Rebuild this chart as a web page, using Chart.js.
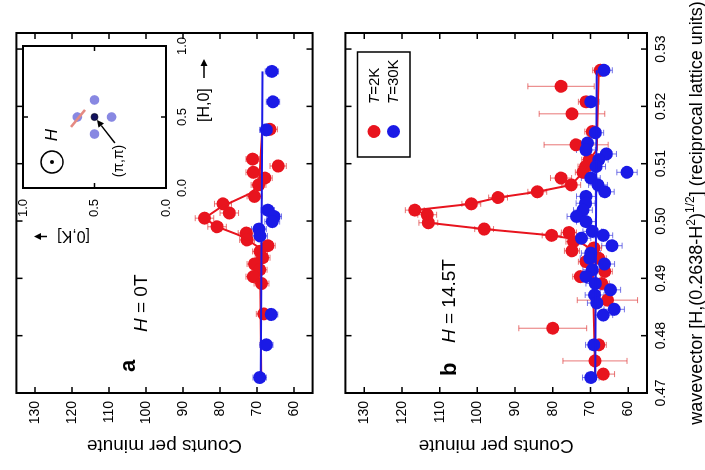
<!DOCTYPE html>
<html><head><meta charset="utf-8">
<script src="https://cdn.jsdelivr.net/npm/chart.js@4.4.1/dist/chart.umd.min.js"></script>
<style>
html,body{margin:0;padding:0;background:#fff;overflow:hidden;width:705px;height:470px}
#fig{position:absolute;left:0;top:0;width:470px;height:705px;transform-origin:0 0;transform:translate(0px,470px) rotate(-90deg);background:#fff}
canvas{position:absolute}
</style></head><body>
<div id="fig">
<canvas id="ca" width="470" height="329" style="left:0;top:0;width:470px;height:329px"></canvas>
<canvas id="cb" width="470" height="376" style="left:0;top:329px;width:470px;height:376px"></canvas>
<canvas id="ci" width="218" height="212" style="left:222px;top:13px;width:218px;height:212px"></canvas>
</div>
<script>
// ---- tick labels ----
const waveTicks = [0.47,0.48,0.49,0.50,0.51,0.52,0.53];
const countTicks = [60,70,80,90,100,110,120,130];
const insetTicks = [0,0.5,1];

// ---- panel a (H = 0T) ----
const aRedQ = [0.5160,0.5108,0.5096,0.5085,0.5075,0.5063,0.5043,0.5030,0.5014,0.5005,0.4990,0.4979,0.4967,0.4957,0.4947,0.4936,0.4925,0.4915,0.4903,0.4891,0.4838];
const aRedC = [66.5,71.2,64.3,71.0,67.9,69.6,70.7,79.2,77.5,84.2,80.8,72.9,72.7,67.1,69.2,68.5,70.7,69.3,71.0,68.8,68.2];
const aRedE = [2.0,1.8,2.2,2.0,2.0,2.0,2.0,2.3,2.5,2.5,2.5,2.2,2.0,2.0,2.0,2.0,2.0,2.0,2.0,2.0,2.0];
const aBlueQ = [0.5261,0.5208,0.5159,0.5019,0.5008,0.4999,0.4986,0.4974,0.4837,0.4784,0.4727];
const aBlueC = [66.0,65.7,67.5,67.1,65.4,65.9,69.5,69.2,66.2,67.5,69.3];
const aBlueE = [1.8,1.8,1.8,1.8,2.0,2.0,2.0,2.0,1.8,1.8,1.8];
const aRedFitQ = [0.5160,0.5063,0.50485,0.5025,0.50049,0.49902,0.49757,0.4967,0.49525,0.4727];
const aRedFitC = [68.6,69.5,71.7,79.6,84.2,80.8,75.0,72.5,69.2,68.9];
const aBlueFitQ = [0.4727,0.5261];
const aBlueFitC = [69.0,68.5];

// ---- panel b (H = 14.5T) ----
const bRedQ = [0.5263,0.5235,0.5208,0.5187,0.5156,0.5133,0.5107,0.5095,0.5085,0.5075,0.5063,0.5051,0.5041,0.5030,0.5019,0.5011,0.4997,0.4986,0.4980,0.4975,0.4964,0.4953,0.4948,0.4935,0.4929,0.4912,0.4903,0.4891,0.4862,0.4813,0.4784,0.4756,0.4733];
const bRedC = [67.4,77.8,71.2,74.9,69.5,73.8,70.3,71.3,72.0,77.8,75.1,84.1,94.5,101.6,116.6,113.3,113.0,98.2,75.7,80.3,74.5,69.1,74.9,67.8,71.2,66.2,72.7,67.0,65.5,80.0,67.8,68.8,66.6];
const bRedE = [2,8.8,2,8.7,2,8.5,2,2,2,2.8,2.5,2.5,2.5,2.5,2.5,2.5,2.5,2.5,2,2.5,2,2,2,2,2,2,2,2,8,9,2,8.5,3];
const bBlueQ = [0.5263,0.5208,0.5154,0.5136,0.5124,0.5117,0.5107,0.5095,0.5085,0.5075,0.5063,0.5051,0.5043,0.5031,0.5019,0.5008,0.4999,0.4982,0.4975,0.4970,0.4957,0.4944,0.4935,0.4925,0.4915,0.4903,0.4891,0.4880,0.4871,0.4857,0.4846,0.4836,0.4784,0.4727];
const bBlueC = [66.4,69.9,68.7,70.8,71.2,65.8,67.8,68.5,60.3,69.9,68.0,66.2,71.2,71.3,72.0,73.7,71.2,69.5,66.6,72.4,64.3,69.9,70.2,66.3,69.5,71.2,68.7,64.7,68.9,68.3,63.7,66.6,69.1,69.9];
const bBlueE = [2.2,2.2,2.2,2.5,2.5,2.7,2.5,2.5,2.7,2.5, 2.5,2.5,2.5,2.5,2.5,2.5,2.5,2.5,2.5,2.5, 2.7,2.5,2.5,2.7,2.5,2.5,2.5,2.7,2.5,2.5, 2.7,2.5,2.2,2.2];
const bRedFitQ = [0.5263,0.5124,0.5107,0.5085,0.5063,0.5051,0.5041,0.5030,0.5019,0.5011,0.4997,0.4986,0.4975,0.4968,0.4950,0.4726];
const bRedFitC = [67.8,68.3,70.3,72.0,75.1,84.1,94.5,101.6,116.6,113.3,113.0,98.2,80.3,74.0,69.5,68.7];
const bBlueFitQ = [0.4726,0.5263];
const bBlueFitC = [68.7,68.3];

// ---- inset (reciprocal space sketch) ----
const insetBraggH = [0.5], insetBraggK = [0.5];
const insetSatH = [0.62,0.5,0.38,0.5], insetSatK = [0.5,0.38,0.5,0.62];
const insetScanH = [0.43,0.55], insetScanK = [0.664,0.566];
const insetArrowH = [0.317,0.479], insetArrowK = [0.357,0.483];

// ---- styling ----
const FONT = "'Liberation Sans', Arial, Helvetica, sans-serif";
const RED = '#e8141e', BLUE = '#1a1ae6';
const RED_ERR = 'rgba(222,60,60,0.7)', BLUE_ERR = 'rgba(60,60,222,0.7)';
Chart.defaults.font.family = FONT;
Chart.defaults.color = '#000';

const pts = (q, c) => q.map((v, i) => ({x: v, y: c[i]}));

function drawRich(ctx, segs, x, y, align) {
  let total = 0;
  segs.forEach(s => { ctx.font = s.font; s.w = ctx.measureText(s.t).width; total += s.w; });
  let cx = align === 'center' ? x - total / 2 : x;
  ctx.textAlign = 'left';
  segs.forEach(s => { ctx.font = s.font; ctx.fillText(s.t, cx, y + (s.dy || 0)); cx += s.w; });
}

function arrow(ctx, x1, y1, x2, y2, head, hw) {
  const ang = Math.atan2(y2 - y1, x2 - x1);
  const bx = x2 - head * Math.cos(ang), by = y2 - head * Math.sin(ang);
  ctx.beginPath(); ctx.moveTo(x1, y1); ctx.lineTo(bx, by); ctx.stroke();
  ctx.beginPath(); ctx.moveTo(x2, y2);
  ctx.lineTo(bx + hw * Math.sin(ang), by - hw * Math.cos(ang));
  ctx.lineTo(bx - hw * Math.sin(ang), by + hw * Math.cos(ang));
  ctx.closePath(); ctx.fill();
}

const errPlugin = {
  id: 'errbars',
  beforeDatasetsDraw(chart) {
    const {ctx, scales: {x, y}} = chart;
    ctx.save();
    chart.data.datasets.forEach(ds => {
      if (!ds.errs) return;
      ctx.strokeStyle = ds.errColor; ctx.lineWidth = 1;
      ctx.beginPath();
      ds.data.forEach((p, i) => {
        const px = x.getPixelForValue(p.x);
        const y1 = y.getPixelForValue(p.y - ds.errs[i]), y2 = y.getPixelForValue(p.y + ds.errs[i]);
        ctx.moveTo(px, y1); ctx.lineTo(px, y2);
        ctx.moveTo(px - 3, y1); ctx.lineTo(px + 3, y1);
        ctx.moveTo(px - 3, y2); ctx.lineTo(px + 3, y2);
      });
      ctx.stroke();
    });
    ctx.restore();
  }
};

function framePlugin(panel) {
  return {
    id: 'frame' + panel,
    afterDraw(chart) {
      const {ctx, chartArea: a, scales: {x, y}} = chart;
      ctx.save();
      ctx.strokeStyle = '#000'; ctx.fillStyle = '#000';
      ctx.lineWidth = 2;
      ctx.strokeRect(a.left, a.top, a.right - a.left, a.bottom - a.top);
      ctx.lineWidth = 1.5;
      const L = 6;
      ctx.beginPath();
      waveTicks.forEach(v => {
        const px = x.getPixelForValue(v);
        if (px < a.left + 1 || px > a.right - 1) return;
        ctx.moveTo(px, a.bottom); ctx.lineTo(px, a.bottom - L);
        ctx.moveTo(px, a.top); ctx.lineTo(px, a.top + L);
      });
      countTicks.forEach(v => {
        const py = y.getPixelForValue(v);
        ctx.moveTo(a.left, py); ctx.lineTo(a.left + L, py);
        ctx.moveTo(a.right, py); ctx.lineTo(a.right - L, py);
      });
      ctx.stroke();

      // y axis title
      ctx.save();
      ctx.translate(29.5, (a.top + a.bottom) / 2);
      ctx.rotate(-Math.PI / 2);
      ctx.font = '19px ' + FONT; ctx.textAlign = 'center'; ctx.textBaseline = 'alphabetic';
      ctx.fillText('Counts per minute', 0, 0);
      ctx.restore();

      ctx.textBaseline = 'alphabetic';
      if (panel === 'a') {
        drawRich(ctx, [{t: 'a', font: 'bold 22px ' + FONT}], 98, 135, 'left');
        drawRich(ctx, [{t: 'H', font: 'italic 19px ' + FONT}, {t: ' = 0T', font: '19px ' + FONT}], 138, 147, 'left');
      } else {
        drawRich(ctx, [{t: 'b', font: 'bold 22px ' + FONT}], 94, 127, 'left');
        drawRich(ctx, [{t: 'H', font: 'italic 19px ' + FONT}, {t: ' = 14.5T', font: '19px ' + FONT}], 127, 126, 'left');
        // legend
        ctx.lineWidth = 1.5;
        ctx.strokeRect(313, 28.5, 105, 52.5);
        ctx.fillStyle = RED; ctx.beginPath(); ctx.arc(338.5, 45, 6.5, 0, Math.PI * 2); ctx.fill();
        ctx.fillStyle = BLUE; ctx.beginPath(); ctx.arc(338.5, 64.5, 6.5, 0, Math.PI * 2); ctx.fill();
        ctx.fillStyle = '#000'; ctx.textBaseline = 'middle';
        drawRich(ctx, [{t: 'T', font: 'italic 15px ' + FONT}, {t: '=2K', font: '15px ' + FONT}], 366, 45.5, 'left');
        drawRich(ctx, [{t: 'T', font: 'italic 15px ' + FONT}, {t: '=30K', font: '15px ' + FONT}], 366, 65, 'left');
        // x axis title
        ctx.textBaseline = 'alphabetic';
        const f = '18px ' + FONT, fs = '12px ' + FONT;
        drawRich(ctx, [
          {t: 'wavevector [H,(0.2638-H', font: f},
          {t: '2', font: fs, dy: -7},
          {t: ')', font: f},
          {t: '1/2', font: fs, dy: -8},
          {t: '] (reciprocal lattice units)', font: f}
        ], (a.left + a.right) / 2, 373, 'center');
      }
      ctx.restore();
    }
  };
}

function mainConfig(panel, d) {
  const isB = panel === 'b';
  return {
    type: 'scatter',
    data: {datasets: [
      {label: 'fit 30K', data: pts(d.bfq, d.bfc), showLine: true, pointRadius: 0, borderColor: BLUE, borderWidth: 2, order: 0},
      {label: 'T=30K', data: pts(d.bq, d.bc), errs: d.be, errColor: BLUE_ERR, pointRadius: 6.5, backgroundColor: BLUE, borderWidth: 0, order: 1},
      {label: 'fit 2K', data: pts(d.rfq, d.rfc), showLine: true, pointRadius: 0, borderColor: RED, borderWidth: 2, order: 2},
      {label: 'T=2K', data: pts(d.rq, d.rc), errs: d.re, errColor: RED_ERR, pointRadius: 6.5, backgroundColor: RED, borderWidth: 0, order: 3}
    ]},
    options: {
      responsive: false, animation: false, devicePixelRatio: 1,
      layout: {padding: {left: 0, right: 33, top: isB ? 0 : 9, bottom: 0}},
      plugins: {legend: {display: false}, tooltip: {enabled: false}},
      scales: {
        x: {
          type: 'linear', min: 0.47, max: 0.5328,
          afterBuildTicks: s => { s.ticks = waveTicks.map(v => ({value: v})); },
          ticks: {display: isB, padding: 6, color: '#000', font: {size: 14}, callback: v => v.toFixed(2)},
          grid: {display: false, drawTicks: false}, border: {display: false},
          afterFit: s => { s.height = isB ? 58 : 0; }
        },
        y: {
          type: 'linear', min: 55, max: 135,
          afterBuildTicks: s => { s.ticks = countTicks.map(v => ({value: v})); },
          ticks: {padding: 8, color: '#000', font: {size: 14}, callback: v => String(v)},
          grid: {display: false, drawTicks: false}, border: {display: false},
          afterFit: s => { s.width = 77; }
        }
      }
    },
    plugins: [errPlugin, framePlugin(panel)]
  };
}

new Chart(document.getElementById('ca'), mainConfig('a', {
  rq: aRedQ, rc: aRedC, re: aRedE, bq: aBlueQ, bc: aBlueC, be: aBlueE,
  rfq: aRedFitQ, rfc: aRedFitC, bfq: aBlueFitQ, bfc: aBlueFitC}));
new Chart(document.getElementById('cb'), mainConfig('b', {
  rq: bRedQ, rc: bRedC, re: bRedE, bq: bBlueQ, bc: bBlueC, be: bBlueE,
  rfq: bRedFitQ, rfc: bRedFitC, bfq: bBlueFitQ, bfc: bBlueFitC}));

const insetPlugin = {
  id: 'insetDecor',
  afterDraw(chart) {
    const {ctx, chartArea: a, scales: {x, y}} = chart;
    ctx.save();
    ctx.strokeStyle = '#000'; ctx.fillStyle = '#000';
    ctx.lineWidth = 2;
    ctx.strokeRect(a.left, a.top, a.right - a.left, a.bottom - a.top);
    ctx.lineWidth = 1.5;
    ctx.beginPath();
    insetTicks.forEach(v => {
      const px = x.getPixelForValue(v), py = y.getPixelForValue(v);
      ctx.moveTo(px, a.bottom); ctx.lineTo(px, a.bottom - 5);
      ctx.moveTo(px, a.top); ctx.lineTo(px, a.top + 5);
      ctx.moveTo(a.left, py); ctx.lineTo(a.left + 5, py);
      ctx.moveTo(a.right, py); ctx.lineTo(a.right - 5, py);
    });
    ctx.stroke();
    ctx.font = '13px ' + FONT;
    ctx.textAlign = 'center'; ctx.textBaseline = 'top';
    insetTicks.forEach(v => ctx.fillText(v.toFixed(1), x.getPixelForValue(v), a.bottom + 10));
    ctx.textAlign = 'right'; ctx.textBaseline = 'middle';
    insetTicks.forEach(v => ctx.fillText(v.toFixed(1), a.left - 11, y.getPixelForValue(v)));
    // axis labels
    ctx.textBaseline = 'alphabetic'; ctx.textAlign = 'left';
    ctx.font = '16px ' + FONT;
    ctx.fillText('[H,0]', a.left + 66, a.bottom + 43);
    ctx.lineWidth = 1.5;
    arrow(ctx, a.left + 110, a.bottom + 38, a.left + 129, a.bottom + 38, 7, 3.5);
    ctx.save();
    ctx.translate(a.left - 43, a.top + 67);
    ctx.rotate(-Math.PI / 2);
    ctx.font = '16px ' + FONT;
    ctx.fillText('[0,K]', 0, 0);
    ctx.restore();
    arrow(ctx, a.left - 48.5, a.top + 24, a.left - 48.5, a.top + 11, 7, 3.5);
    // field symbol
    const cx = x.getPixelForValue(0.183), cy = y.getPixelForValue(0.797);
    ctx.beginPath(); ctx.arc(cx, cy, 11, 0, Math.PI * 2); ctx.stroke();
    ctx.beginPath(); ctx.arc(cx, cy, 2, 0, Math.PI * 2); ctx.fill();
    ctx.font = 'italic 17px ' + FONT; ctx.textAlign = 'center'; ctx.textBaseline = 'middle';
    ctx.fillText('H', x.getPixelForValue(0.373), y.getPixelForValue(0.794));
    ctx.font = '14px ' + FONT;
    ctx.fillText('(\u03C0,\u03C0)', x.getPixelForValue(0.19), y.getPixelForValue(0.33));
    arrow(ctx, x.getPixelForValue(insetArrowH[0]), y.getPixelForValue(insetArrowK[0]),
               x.getPixelForValue(insetArrowH[1]), y.getPixelForValue(insetArrowK[1]), 7, 3.5);
    ctx.restore();
  }
};

new Chart(document.getElementById('ci'), {
  type: 'scatter',
  data: {datasets: [
    {data: pts(insetScanH, insetScanK), showLine: true, pointRadius: 0, borderColor: '#e58a82', borderWidth: 2.5, order: 0},
    {data: pts(insetBraggH, insetBraggK), pointRadius: 3.6, backgroundColor: '#12125e', borderColor: '#000', borderWidth: 0.5, order: 1},
    {data: pts(insetSatH, insetSatK), pointRadius: 4.8, backgroundColor: 'rgb(136,136,226)', borderWidth: 0, order: 2}
  ]},
  options: {
    responsive: false, animation: false, devicePixelRatio: 1,
    layout: {padding: {left: 60, right: 16, top: 10, bottom: 59}},
    plugins: {legend: {display: false}, tooltip: {enabled: false}},
    scales: {x: {display: false, min: 0, max: 1}, y: {display: false, min: 0, max: 1}}
  },
  plugins: [insetPlugin]
});
</script>
</body></html>
